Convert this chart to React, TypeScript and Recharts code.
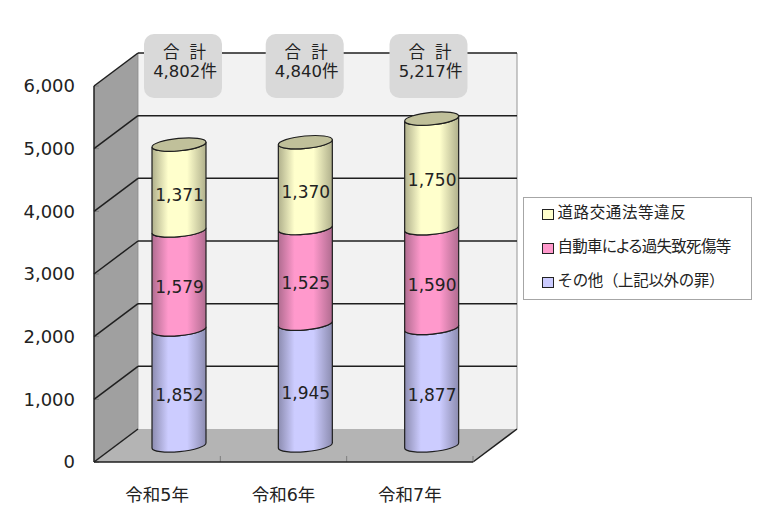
import React from "react";
import { BarChart, Bar, XAxis, YAxis, Legend, LabelList, Customized } from "recharts";

const categories = ["令和5年", "令和6年", "令和7年"];
const otherValues = [1852, 1945, 1877];
const autoValues = [1579, 1525, 1590];
const trafficValues = [1371, 1370, 1750];
const totals = [4802, 4840, 5217];
const yTicks = [0, 1000, 2000, 3000, 4000, 5000, 6000];
const seriesNames = ["その他（上記以外の罪）", "自動車による過失致死傷等", "道路交通法等違反"];

const rows = categories.map((name, i) => ({
  name,
  other: otherValues[i],
  auto: autoValues[i],
  traffic: trafficValues[i],
}));

const W = 758;
const H = 521;
const PLOT = { left: 94, top: 86, right: 473, bottom: 462 };
const DX = 44;
const DY = -33;
const BAR_DX = DX / 2;
const BAR_DY = DY / 2;
const TILT = 5.5;
const FONT = "'DejaVu Sans','Noto Sans CJK JP',sans-serif";
const BOX_CENTERS = [183, 304.7, 428.5];
const SWATCH: Record<string, string> = { traffic: "#FFFFCC", auto: "#FF99CC", other: "#CCCCFF" };
const LEGEND_TEXT: Record<string, React.CSSProperties> = {
  traffic: { fontFeatureSettings: "'palt'", letterSpacing: 0.6 },
  auto: { fontFeatureSettings: "'palt'", letterSpacing: -0.7 },
  other: { letterSpacing: -0.35 },
};

const yOf = (v: number) => PLOT.bottom - ((PLOT.bottom - PLOT.top) * v) / 6000;
const fmt = (v: number) => v.toLocaleString("en-US");

function Backdrop() {
  const { left: l, right: r, bottom: b, top: t } = PLOT;
  const band = (r - l) / categories.length;
  return (
    <g>
      <rect x={l + DX} y={t + DY} width={r - l} height={b - t} fill="#F2F2F2" />
      <polygon points={`${l},${t} ${l + DX},${t + DY} ${l + DX},${b + DY} ${l},${b}`} fill="#A0A0A0" />
      <polygon points={`${l},${b} ${l + DX},${b + DY} ${r + DX},${b + DY} ${r},${b}`} fill="#B4B4B4" />
      <line x1={r + DX} x2={r + DX} y1={t + DY} y2={b + DY} stroke="#A6A6A6" strokeWidth={1.2} />
      <line x1={l + DX} x2={l + DX} y1={t + DY} y2={b + DY} stroke="#8C8C8C" strokeWidth={0.8} />
      {yTicks.map((v) => (
        <g key={v}>
          <line x1={l} x2={l + 5} y1={yOf(v)} y2={yOf(v)} stroke="#7F7F7F" strokeWidth={1} />
          <line x1={l} x2={l + DX} y1={yOf(v)} y2={yOf(v) + DY} stroke="#1F1F1F" strokeWidth={1.5} />
          {v > 0 && (
            <line x1={l + DX} x2={r + DX} y1={yOf(v) + DY} y2={yOf(v) + DY} stroke="#1F1F1F" strokeWidth={1.5} />
          )}
        </g>
      ))}
      <line x1={r} x2={r + DX} y1={b} y2={b + DY} stroke="#1F1F1F" strokeWidth={1.5} />
      {categories.map((_, i) => (
        <line key={i} x1={l + band * (i + 1)} x2={l + band * (i + 1)} y1={b} y2={b - 6} stroke="#7F7F7F" strokeWidth={1} />
      ))}
      {totals.map((v, i) => (
        <g key={i} fontFamily={FONT} fontSize={16.5} fill="#222" textAnchor="middle">
          <rect x={BOX_CENTERS[i] - 39} y={34} width={78} height={64} rx={10} fill="#D9D9D9" />
          <text x={BOX_CENTERS[i] + 1.5} y={58} style={{ wordSpacing: 5 }}>合 計</text>
          <text x={BOX_CENTERS[i] + 2} y={77}>{fmt(v)}件</text>
        </g>
      ))}
    </g>
  );
}

function Cylinder(props: any) {
  const { x, y, width, height, fill, showTop } = props;
  const half = width / 2;
  const cx = x + half + BAR_DX;
  const rad = (TILT * Math.PI) / 180;
  const rx = half / Math.cos(rad);
  const ry = 6.2;
  const rise = half * Math.tan(rad);
  const top = y + BAR_DY;
  const bottom = y + height + BAR_DY;
  const d =
    `M${cx - half},${top + rise} A${rx},${ry} ${-TILT} 0 0 ${cx + half},${top - rise} ` +
    `L${cx + half},${bottom - rise} A${rx},${ry} ${-TILT} 0 1 ${cx - half},${bottom + rise} Z`;
  return (
    <g>
      <path d={d} fill={fill} stroke="#1F1F1F" strokeWidth={1.2} />
      {showTop && (
        <ellipse
          cx={cx}
          cy={top}
          rx={rx}
          ry={ry}
          transform={`rotate(${-TILT} ${cx} ${top})`}
          fill="#C0C09A"
          stroke="#1F1F1F"
          strokeWidth={1.2}
        />
      )}
    </g>
  );
}

function SegmentLabel(props: any) {
  const { x, y, width, height, value, extra = 0 } = props;
  return (
    <text
      x={x + width / 2 + BAR_DX + 0.5}
      y={y + height / 2 + BAR_DY + 7 + extra}
      textAnchor="middle"
      dominantBaseline="central"
      fontFamily={FONT}
      fontSize={17}
      fill="#222"
    >
      {fmt(value)}
    </text>
  );
}

function LegendBox(props: any) {
  const items = [...(props.payload || [])].reverse();
  return (
    <div
      style={{
        width: 229,
        height: 103,
        boxSizing: "border-box",
        border: "1px solid #A6A6A6",
        background: "#fff",
        fontFamily: FONT,
        fontSize: 15.5,
        color: "#222",
        paddingLeft: 17.5,
      }}
    >
      {items.map((it: any, i: number) => (
        <div key={it.dataKey} style={{ height: 34, marginTop: i === 0 ? -4 : 0, display: "flex", alignItems: "center", whiteSpace: "nowrap" }}>
          <span
            style={{
              width: 10,
              height: 9,
              border: "1.5px solid #222",
              background: SWATCH[it.dataKey],
              marginRight: 4,
              marginTop: 7,
              flex: "none",
            }}
          />
          <span style={LEGEND_TEXT[it.dataKey]}>{it.value}</span>
        </div>
      ))}
    </div>
  );
}

function Grad({ id, edge, mid }: { id: string; edge: string; mid: string }) {
  return (
    <linearGradient id={id} x1="0" x2="1" y1="0" y2="0">
      <stop offset="0" stopColor={edge} />
      <stop offset="0.3" stopColor={mid} />
      <stop offset="0.65" stopColor={mid} />
      <stop offset="1" stopColor={edge} />
    </linearGradient>
  );
}

export default function App() {
  return (
    <div style={{ position: "absolute", left: 0, top: 0, width: W, height: H }}>
      <BarChart
        width={W}
        height={H}
        data={rows}
        barCategoryGap={0}
        margin={{ top: PLOT.top, right: W - PLOT.right, bottom: 0, left: 0 }}
      >
        <defs>
          <Grad id="gOther" edge="#8C8CB0" mid="#CCCCFF" />
          <Grad id="gAuto" edge="#B06C90" mid="#FF99CC" />
          <Grad id="gTraffic" edge="#B0B08C" mid="#FFFFCC" />
        </defs>
        <Customized component={Backdrop} />
        <XAxis
          dataKey="name"
          height={H - PLOT.bottom}
          axisLine={{ stroke: "#1F1F1F", strokeWidth: 1.5 }}
          tickLine={false}
          tickMargin={21}
          tick={{ fontFamily: FONT, fontSize: 17.5, fill: "#222" }}
        />
        <YAxis
          width={PLOT.left}
          domain={[0, 6000]}
          ticks={yTicks}
          tickFormatter={fmt}
          axisLine={{ stroke: "#1F1F1F", strokeWidth: 1.5 }}
          tickLine={false}
          tickMargin={13}
          tick={{ fontFamily: FONT, fontSize: 18, fill: "#222" }}
        />
        <Bar dataKey="other" name={seriesNames[0]} stackId="a" barSize={54} fill="url(#gOther)" isAnimationActive={false} shape={<Cylinder />}>
          <LabelList dataKey="other" content={<SegmentLabel extra={1} />} />
        </Bar>
        <Bar dataKey="auto" name={seriesNames[1]} stackId="a" barSize={54} fill="url(#gAuto)" isAnimationActive={false} shape={<Cylinder />}>
          <LabelList dataKey="auto" content={<SegmentLabel />} />
        </Bar>
        <Bar dataKey="traffic" name={seriesNames[2]} stackId="a" barSize={54} fill="url(#gTraffic)" isAnimationActive={false} shape={<Cylinder showTop />}>
          <LabelList dataKey="traffic" content={<SegmentLabel />} />
        </Bar>
        <Legend
          layout="horizontal"
          verticalAlign="middle"
          align="center"
          content={<LegendBox />}
          wrapperStyle={{ position: "absolute", left: 523, top: 196.5, width: 229, height: 103, margin: 0, transform: "none" }}
        />
      </BarChart>
    </div>
  );
}
